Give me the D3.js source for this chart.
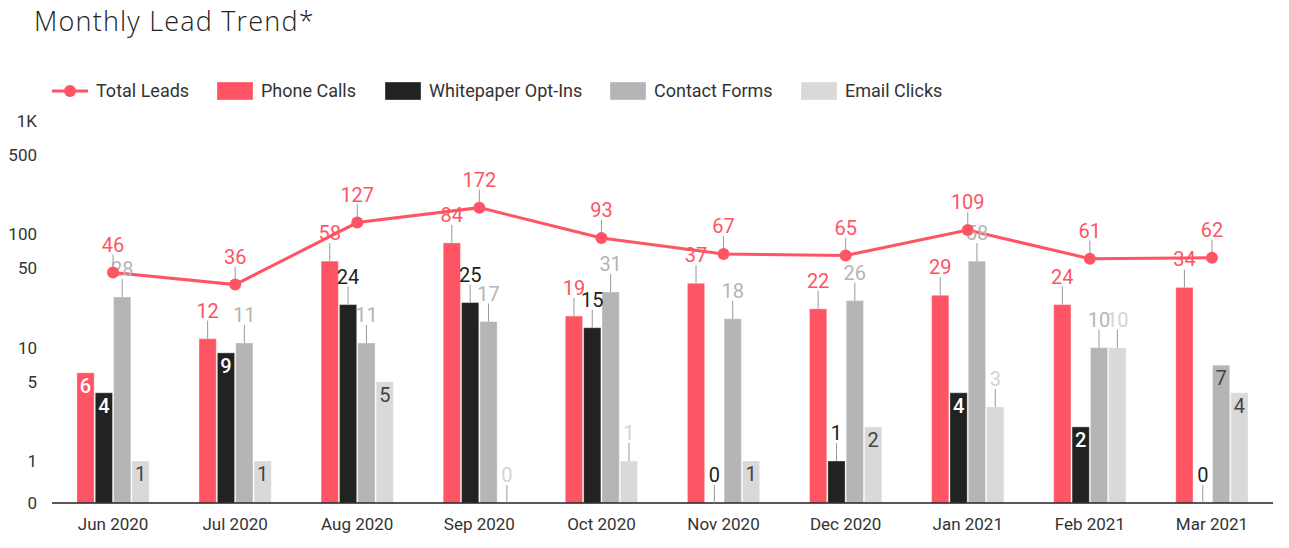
<!DOCTYPE html>
<html>
<head>
<meta charset="utf-8">
<script src="https://cdn.jsdelivr.net/npm/d3@7"></script>
<style>
  body { margin: 0; background: #fff; }
  text { font-family: Roboto, "Noto Sans", sans-serif; }
</style>
</head>
<body>
<svg id="chart" width="1289" height="548"></svg>
<script>
// data
var months = ["Jun 2020", "Jul 2020", "Aug 2020", "Sep 2020", "Oct 2020",
              "Nov 2020", "Dec 2020", "Jan 2021", "Feb 2021", "Mar 2021"];
var totalLeads  = [46, 36, 127, 172, 93, 67, 65, 109, 61, 62];
var phoneCalls  = [6, 12, 58, 84, 19, 37, 22, 29, 24, 34];
var whitepaper  = [4, 9, 24, 25, 15, 0, 1, 4, 2, 0];
var contactForm = [28, 11, 11, 17, 31, 18, 26, 58, 10, 7];
var emailClicks = [1, 1, 5, 0, 1, 1, 2, 3, 10, 4];
var seriesNames = ["Phone Calls", "Whitepaper Opt-Ins", "Contact Forms", "Email Clicks"];
var tickValues = [0, 1, 5, 10, 50, 100, 500, 1000];
var tickLabels = ["0", "1", "5", "10", "50", "100", "500", "1K"];
// labels that sit inside the bar top instead of above it
var insideLabels = ["Jun 2020|0", "Jun 2020|1", "Jun 2020|3", "Jul 2020|1", "Jul 2020|3",
                    "Aug 2020|3", "Nov 2020|3", "Dec 2020|3", "Jan 2021|1", "Feb 2021|1",
                    "Mar 2021|2", "Mar 2021|3"];

var seriesValues = [phoneCalls, whitepaper, contactForm, emailClicks];
var colors = ["#ff5463", "#212322", "#b5b5b5", "#d9d9d9"];
var labelColors = ["#ff5463", "#222", "#b5b5b5", "#d4d4d4"];
var insideColors = ["#fff", "#fff", "#444", "#444"];
var red = "#ff5463";

var svg = d3.select("#chart");
var left = 52, right = 1273, baseY = 503, topY = 121;

var x0 = d3.scaleBand()
    .domain(months)
    .range([left, right])
    .paddingInner(0.39)
    .paddingOuter(0.195);

var x1 = d3.scaleBand()
    .domain(d3.range(seriesNames.length))
    .range([0, x0.bandwidth()])
    .padding(0.06);

// log scale, zero gets clamped onto the baseline
var y = d3.scaleLog()
    .domain([Math.pow(10, -42 / 113.3), 1000])
    .range([baseY, topY])
    .clamp(true);

// title
svg.append("text")
    .attr("x", 34)
    .attr("y", 31)
    .style("font-family", "'Open Sans', sans-serif")
    .style("font-weight", 300)
    .style("font-size", "27px")
    .style("letter-spacing", "1.2px")
    .attr("fill", "#222")
    .text("Monthly Lead Trend*");

// legend
var lg = svg.append("g").attr("transform", "translate(0,91)");
lg.append("line").attr("x1", 52).attr("x2", 88).attr("y1", 0).attr("y2", 0)
    .attr("stroke", red).attr("stroke-width", 3);
lg.append("circle").attr("cx", 70).attr("cy", 0).attr("r", 6).attr("fill", red);
lg.append("text").attr("x", 96).attr("y", 6).style("font-size", "18px").attr("fill", "#333").text("Total Leads");
var legendX = [217, 385, 610, 801];
seriesNames.forEach(function(name, i) {
    lg.append("rect")
        .attr("x", legendX[i]).attr("y", -9)
        .attr("width", 36).attr("height", 18)
        .attr("fill", colors[i])
        .attr("stroke", "rgba(255,255,255,0.35)");
    lg.append("text")
        .attr("x", legendX[i] + 44).attr("y", 6)
        .style("font-size", "18px").attr("fill", "#333")
        .text(name);
});

// y axis
var yAxis = svg.append("g")
    .attr("transform", "translate(" + left + ",0)")
    .call(d3.axisLeft(y).tickValues(tickValues)
        .tickFormat(function(d, i) { return tickLabels[i]; })
        .tickSize(0).tickPadding(15));
yAxis.select(".domain").remove();
yAxis.selectAll("text").style("font-size", "17px").attr("fill", "#333")
    .style("font-family", "Roboto, sans-serif");

// bars
var flat = [];
months.forEach(function(m, mi) {
    seriesValues.forEach(function(vals, si) {
        flat.push({month: m, s: si, v: vals[mi]});
    });
});

svg.append("g").selectAll("rect")
    .data(flat.filter(function(d) { return d.v > 0; }))
    .enter()
    .append("rect")
        .attr("x", function(d) { return x0(d.month) + x1(d.s); })
        .attr("y", function(d) { return y(d.v); })
        .attr("width", x1.bandwidth())
        .attr("height", function(d) { return baseY - y(d.v); })
        .attr("fill", function(d) { return colors[d.s]; })
        .attr("stroke", "rgba(255,255,255,0.35)")
        .attr("stroke-width", 1);

// x axis
var xAxis = svg.append("g")
    .attr("transform", "translate(0," + baseY + ")")
    .call(d3.axisBottom(x0).tickSize(0).tickPadding(15));
xAxis.select(".domain").attr("stroke", "#222").attr("stroke-width", 1.5)
    .attr("d", "M" + left + ",0H" + right);
xAxis.selectAll("text").style("font-size", "17px").attr("fill", "#333")
    .style("font-family", "Roboto, sans-serif");

// total leads line
var cx = function(m) { return x0(m) + x0.bandwidth() / 2; };
var line = d3.line()
    .x(function(d, i) { return cx(months[i]); })
    .y(function(d) { return y(d); });
svg.append("path")
    .datum(totalLeads)
    .attr("d", line)
    .attr("fill", "none")
    .attr("stroke", red)
    .attr("stroke-width", 3);

// bar labels
var labels = svg.append("g");
flat.forEach(function(d) {
    var bx = x0(d.month) + x1(d.s) + x1.bandwidth() / 2;
    var by = y(d.v);
    if (insideLabels.indexOf(d.month + "|" + d.s) >= 0) {
        labels.append("text")
            .attr("x", bx).attr("y", by + 20)
            .attr("text-anchor", "middle")
            .style("font-size", "20px")
            .style("font-weight", d.s < 2 ? 500 : 400)
            .attr("fill", insideColors[d.s])
            .text(d.v);
    } else {
        labels.append("line")
            .attr("x1", bx).attr("x2", bx)
            .attr("y1", by).attr("y2", by - 18)
            .attr("stroke", "#999").attr("stroke-width", 1);
        labels.append("text")
            .attr("x", bx).attr("y", by - 21)
            .attr("text-anchor", "middle")
            .style("font-size", "20px")
            .attr("fill", labelColors[d.s])
            .text(d.v);
    }
});

// line points and labels
totalLeads.forEach(function(v, i) {
    var px = cx(months[i]), py = y(v);
    labels.append("line")
        .attr("x1", px).attr("x2", px)
        .attr("y1", py).attr("y2", py - 18)
        .attr("stroke", "#999").attr("stroke-width", 1);
    labels.append("circle")
        .attr("cx", px).attr("cy", py).attr("r", 6)
        .attr("fill", red);
    labels.append("text")
        .attr("x", px).attr("y", py - 21)
        .attr("text-anchor", "middle")
        .style("font-size", "20px")
        .attr("fill", red)
        .text(v);
});
</script>
</body>
</html>
